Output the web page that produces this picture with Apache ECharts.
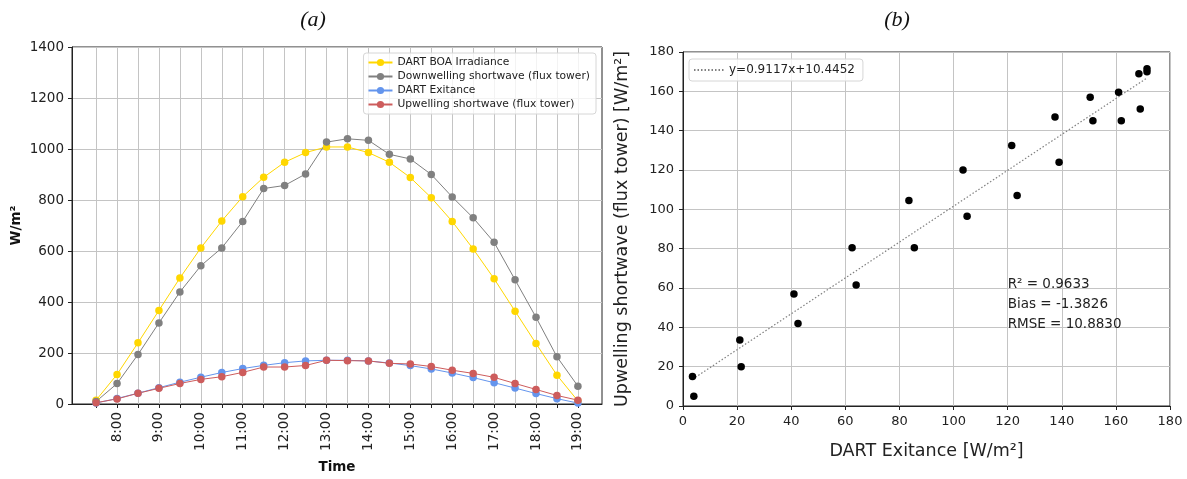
<!DOCTYPE html>
<html>
<head>
<meta charset="utf-8">
<script src="https://cdn.jsdelivr.net/npm/echarts@6/dist/echarts.min.js"></script>
<style>
  html, body { margin: 0; padding: 0; background: #fff; }
  #chart { width: 1187px; height: 479px; }
</style>
</head>
<body>
<div id="chart"></div>
<script>
// half-hour time steps
var times = ['7:30', '8:00', '8:30', '9:00', '9:30', '10:00', '10:30', '11:00', '11:30', '12:00',
             '12:30', '13:00', '13:30', '14:00', '14:30', '15:00', '15:30', '16:00', '16:30', '17:00',
             '17:30', '18:00', '18:30', '19:00'];
var hourLabels = ['8:00', '9:00', '10:00', '11:00', '12:00', '13:00', '14:00', '15:00', '16:00', '17:00', '18:00', '19:00'];

var dartBoa = [15, 116, 240, 367, 494, 612, 718, 813, 889, 948, 986, 1008, 1008, 986, 948, 888, 809, 716, 608, 491, 364, 237, 113, 12];
var downwelling = [10, 80, 194, 318, 439, 542, 612, 716, 845, 857, 902, 1027, 1040, 1034, 979, 961, 900, 812, 730, 634, 487, 340, 185, 70];
var dartExitance = [4, 21.5, 42.5, 64, 85.5, 105, 123.5, 139, 151.5, 162, 169, 171.5, 171.5, 168.5, 161, 150.5, 137.5, 121.5, 103.5, 83.5, 62.5, 41, 21, 3.5];
var upwelling = [5, 20, 42, 61.5, 80.5, 96.5, 107, 124, 145, 145, 151, 171.5, 170, 169, 159.5, 157, 147, 132.5, 120, 104.5, 80.5, 57, 33.5, 15];

// regression line end points (y=0.9117x+10.4452)
var fitLine = [[3.5, 13.6], [171.5, 166.8]];
var fitLabel = 'y=0.9117x+10.4452';
var statsText = ['R² = 0.9633', 'Bias = -1.3826', 'RMSE = 10.8830'];

function toHour(t) {
    var p = t.split(':');
    return +p[0] + (+p[1]) / 60;
}
var hours = times.map(toHour);
var labelHours = hourLabels.map(toHour);

function pairs(xs, ys) {
    return xs.map(function (x, i) { return [x, ys[i]]; });
}

var font = 'DejaVu Sans';
var gridColor = '#c4c4c4';

var chart = echarts.init(document.getElementById('chart'));

function lineSeries(name, values, color) {
    return {
        name: name,
        type: 'line',
        xAxisIndex: 0,
        yAxisIndex: 0,
        data: pairs(hours, values),
        symbol: 'circle',
        symbolSize: 7.5,
        itemStyle: { color: color, opacity: 1 },
        lineStyle: { color: color, width: 1 },
        emphasis: { disabled: true },
        animation: false
    };
}

function plain(v) { return String(v); }

var option = {
    backgroundColor: '#fff',
    animation: false,
    textStyle: { fontFamily: font },
    title: [
        { text: '(a)', left: 308, top: 4, textAlign: 'center',
          textStyle: { fontFamily: 'Liberation Serif', fontStyle: 'italic', fontWeight: 'normal', fontSize: 22, color: '#111' } },
        { text: '(b)', left: 892, top: 4, textAlign: 'center',
          textStyle: { fontFamily: 'Liberation Serif', fontStyle: 'italic', fontWeight: 'normal', fontSize: 22, color: '#111' } }
    ],
    grid: [
        { left: 72, top: 47, width: 530, height: 360, show: true, borderColor: '#222', borderWidth: 1, backgroundColor: 'transparent' },
        { left: 683, top: 52, width: 487, height: 354, show: true, borderColor: '#222', borderWidth: 1, backgroundColor: 'transparent' }
    ],
    legend: [
        {
            data: ['DART BOA Irradiance', 'Downwelling shortwave (flux tower)', 'DART Exitance', 'Upwelling shortwave (flux tower)'],
            orient: 'vertical',
            right: 591,
            top: 53,
            padding: [4, 6, 4, 4],
            itemGap: 3,
            itemWidth: 24,
            itemHeight: 9,
            backgroundColor: 'rgba(255,255,255,0.8)',
            borderColor: '#d6d6d6',
            borderWidth: 1,
            borderRadius: 3,
            textStyle: { fontFamily: font, fontSize: 10.7, color: '#222' }
        },
        {
            data: [fitLabel],
            orient: 'vertical',
            left: 689,
            top: 59,
            padding: [5, 8, 5, 4],
            itemWidth: 30,
            itemHeight: 8,
            itemStyle: { opacity: 0 },
            backgroundColor: 'rgba(255,255,255,0.8)',
            borderColor: '#d6d6d6',
            borderWidth: 1,
            borderRadius: 3,
            textStyle: { fontFamily: font, fontSize: 12, color: '#222' }
        }
    ],
    xAxis: [
        {
            type: 'value',
            gridIndex: 0,
            min: 6.925,
            max: 19.575,
            name: 'Time',
            nameLocation: 'middle',
            nameGap: 56,
            nameTextStyle: { fontFamily: font, fontWeight: 'bold', fontSize: 13.5, color: '#111' },
            axisLine: { lineStyle: { color: '#222', width: 1 } },
            axisTick: { show: true, length: 4, lineStyle: { color: '#222' }, customValues: hours },
            axisLabel: {
                customValues: labelHours,
                rotate: 90,
                margin: 8,
                fontFamily: font,
                fontSize: 13.5,
                color: '#222',
                formatter: function (v) {
                    var h = Math.floor(v + 1e-6);
                    var m = Math.round((v - h) * 60);
                    return h + ':' + (m < 10 ? '0' + m : m);
                }
            },
            splitLine: { show: true, lineStyle: { color: gridColor, width: 1 } }
        },
        {
            type: 'value',
            gridIndex: 1,
            min: 0,
            max: 180,
            interval: 20,
            name: 'DART Exitance [W/m²]',
            nameLocation: 'middle',
            nameGap: 36,
            nameTextStyle: { fontFamily: font, fontSize: 17.5, color: '#222' },
            axisLine: { lineStyle: { color: '#222', width: 1 } },
            axisTick: { show: true, length: 4, lineStyle: { color: '#222' } },
            axisLabel: { margin: 9, fontFamily: font, fontSize: 13, color: '#222', formatter: plain },
            splitLine: { show: true, lineStyle: { color: gridColor, width: 1 } }
        }
    ],
    yAxis: [
        {
            type: 'value',
            gridIndex: 0,
            min: 0,
            max: 1400,
            interval: 200,
            name: 'W/m²',
            nameLocation: 'middle',
            nameGap: 49,
            nameTextStyle: { fontFamily: font, fontWeight: 'bold', fontSize: 13.5, color: '#111' },
            axisLine: { show: true, lineStyle: { color: '#222', width: 1 } },
            axisTick: { show: true, length: 4, lineStyle: { color: '#222' } },
            axisLabel: { margin: 8, fontFamily: font, fontSize: 13.5, color: '#222', formatter: plain },
            splitLine: { show: true, lineStyle: { color: gridColor, width: 1 } }
        },
        {
            type: 'value',
            gridIndex: 1,
            min: 0,
            max: 180,
            interval: 20,
            name: 'Upwelling shortwave (flux tower) [W/m²]',
            nameLocation: 'middle',
            nameGap: 52,
            nameTextStyle: { fontFamily: font, fontSize: 17.5, color: '#222' },
            axisLine: { show: true, lineStyle: { color: '#222', width: 1 } },
            axisTick: { show: true, length: 4, lineStyle: { color: '#222' } },
            axisLabel: { margin: 9, fontFamily: font, fontSize: 13, color: '#222', formatter: plain },
            splitLine: { show: true, lineStyle: { color: gridColor, width: 1 } }
        }
    ],
    series: [
        lineSeries('DART BOA Irradiance', dartBoa, '#FFD700'),
        lineSeries('Downwelling shortwave (flux tower)', downwelling, '#808080'),
        lineSeries('DART Exitance', dartExitance, '#6495ED'),
        lineSeries('Upwelling shortwave (flux tower)', upwelling, '#CD5C5C'),
        {
            name: fitLabel,
            type: 'line',
            xAxisIndex: 1,
            yAxisIndex: 1,
            data: fitLine,
            symbol: 'none',
            lineStyle: { color: '#808080', width: 1.2, type: [1.5, 2] },
            itemStyle: { color: '#808080' },
            emphasis: { disabled: true },
            z: 3
        },
        {
            name: 'points',
            type: 'scatter',
            xAxisIndex: 1,
            yAxisIndex: 1,
            data: pairs(dartExitance, upwelling),
            symbol: 'circle',
            symbolSize: 7.5,
            itemStyle: { color: '#000', opacity: 1 },
            emphasis: { disabled: true },
            z: 4
        }
    ]
};

chart.setOption(option);

// stats annotation anchored in data space of the scatter plot
var anchor = chart.convertToPixel({ gridIndex: 1 }, [120, 67]);
chart.setOption({
    graphic: [{
        type: 'text',
        left: anchor[0],
        top: anchor[1],
        style: {
            text: statsText.join('\n'),
            fontFamily: font,
            fontSize: 13.5,
            lineHeight: 20,
            fill: '#222'
        },
        z: 10
    }]
});
</script>
</body>
</html>
